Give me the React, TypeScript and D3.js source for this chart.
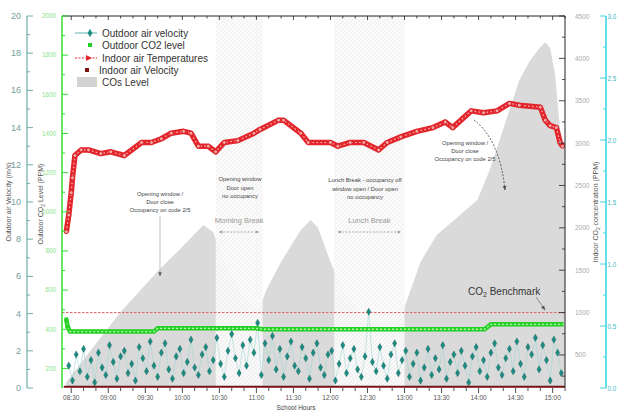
import React from "react";
import * as d3 from "d3";

// ---------- DATA ----------
const xTickLabels = ["08:30","09:00","09:30","10:00","10:30","11:00","11:30","12:00","12:30","13:00","13:30","14:00","14:30","15:00"];

// Indoor CO2 concentration (grey area), right axis (PPM)
const co2Times = ["08:26","08:46","09:10","09:41","09:59","10:17","10:25","10:35","10:51","11:02","11:08","11:20","11:36","11:44","11:50","12:00","12:12","12:28","12:45","12:53","13:02","13:13","13:26","13:45","13:59","14:09","14:17","14:25","14:33","14:41","14:48","14:54","14:58","15:02","15:06","15:10"];
const co2Values = [182,559,1008,1503,1763,2034,1952,1562,1149,1031,1267,1598,1975,2093,1999,1598,1208,937,795,772,1149,1598,1916,2152,2329,2683,3037,3391,3745,3957,4099,4193,4123,3804,3155,2942];

// Indoor air temperature (left axis)
const tempTimes = ["08:26","08:28","08:30","08:31","08:33","08:38","08:44","08:54","09:02","09:13","09:27","09:35","09:43","09:51","10:01","10:07","10:13","10:21","10:27","10:34","10:45","10:58","11:03","11:18","11:22","11:36","11:42","12:00","12:06","12:16","12:27","12:39","12:46","12:57","13:10","13:23","13:33","13:39","13:54","14:04","14:15","14:25","14:33","14:50","14:54","14:58","15:03","15:06","15:08"];
const tempValues = [8.4,9.3,10.5,11.3,12.5,12.8,12.8,12.6,12.7,12.5,13.2,13.2,13.4,13.7,13.8,13.7,13.0,13.0,12.7,13.2,13.3,13.7,13.9,14.4,14.4,13.7,13.2,13.2,13.0,13.2,13.2,12.8,13.2,13.5,13.8,14.0,14.3,14.0,14.9,14.8,14.9,15.3,15.2,15.1,14.4,14.1,14.0,13.2,13.0];

// Outdoor CO2 level (green axis, PPM)
const outCo2Times = ["08:26","08:27","08:29","09:37","09:40","11:00","11:05","14:05","14:10","15:09"];
const outCo2Values = [450,415,388,388,405,405,400,400,425,425];

// Outdoor air velocity (left axis, m/s), sampled every 3 minutes from 08:28
const velStart = "08:28";
const velStepMin = 3;
const velValues = [
  1.2,0.4,1.8,0.9,2.1,0.6,1.5,0.3,1.9,1.1,0.7,2.3,1.4,0.5,1.7,2.0,0.8,1.3,0.4,2.2,
  1.6,0.9,2.5,1.2,0.6,1.9,2.4,1.0,0.5,1.7,2.1,0.8,1.4,2.6,1.1,0.7,1.8,2.2,0.9,1.5,
  2.7,1.3,0.6,2.0,2.9,1.6,0.8,2.3,1.2,2.6,1.9,3.5,0.7,2.4,1.5,2.8,1.0,2.1,0.6,1.7,
  2.5,1.2,0.9,2.2,1.6,0.5,1.9,2.4,1.1,0.7,1.8,2.0,0.4,1.3,2.3,0.8,1.6,2.1,1.0,0.6,
  1.7,4.1,1.4,0.9,2.2,1.2,0.5,1.8,2.4,0.8,1.5,2.0,0.6,1.3,1.9,0.4,1.1,2.1,0.7,1.6,
  1.0,2.3,0.5,1.4,1.8,0.8,2.0,1.2,0.3,1.7,2.2,0.9,1.5,0.6,1.9,2.4,1.1,0.7,1.6,2.1,
  0.9,2.5,1.3,0.6,2.2,1.8,2.7,1.0,2.3,1.5,0.4,2.6,1.9,0.8
];

// Indoor air velocity (cyan axis, m/s)
const inVelTimes = ["08:24","15:10"];
const inVelValues = [0.01,0.01];

const breakStarts = ["10:27","12:03"];
const breakEnds = ["11:05","13:00"];
const breakLabels = ["Morning  Break","Lunch  Break"];

const co2Benchmark = 1000;

const leftTicks = [0,2,4,6,8,10,12,14,16,18,20];
const greenTicks = [200,400,600,800,1000,1200,1400,1600,1800,2000];
const rightTicks = [500,1000,1500,2000,2500,3000,3500,4000,4500];
const cyanTicks = [0,0.5,1.0,1.5,2.0,2.5,3.0];

// ---------- LAYOUT ----------
const W = 617, H = 414;
const L = 62, R = 565, T = 16, B = 388;
const FONT = "'Liberation Sans', Arial, sans-serif";

const parse = d3.timeParse("%H:%M");

export default function App() {
  const x = d3.scaleTime().domain([parse("08:23")!, parse("15:10")!]).range([L + 0.6, R]);
  const yLeft = d3.scaleLinear().domain([0, 20]).range([B, T]);
  const yGreen = d3.scaleLinear().domain([100, 2000]).range([B, T]);
  const yRight = d3.scaleLinear().domain([110, 4500]).range([B, T]);
  const yCyan = d3.scaleLinear().domain([0, 3]).range([B, T]);

  const co2Data = co2Times.map((t, i) => ({ t: parse(t)!, v: co2Values[i] }));
  const tempData = tempTimes.map((t, i) => ({ t: parse(t)!, v: tempValues[i] }));
  const outCo2Data = outCo2Times.map((t, i) => ({ t: parse(t)!, v: outCo2Values[i] }));
  const velData = velValues.map((v, i) => ({ t: d3.timeMinute.offset(parse(velStart)!, i * velStepMin), v }));
  const inVelData = inVelTimes.map((t, i) => ({ t: parse(t)!, v: inVelValues[i] }));

  const area = d3.area<{ t: Date; v: number }>().x(d => x(d.t)).y0(B).y1(d => yRight(d.v));
  const tempLine = d3.line<{ t: Date; v: number }>().x(d => x(d.t)).y(d => yLeft(d.v));
  const greenLine = d3.line<{ t: Date; v: number }>().x(d => x(d.t)).y(d => yGreen(d.v));
  const velLine = d3.line<{ t: Date; v: number }>().x(d => x(d.t)).y(d => yLeft(d.v));
  const inVelLine = d3.line<{ t: Date; v: number }>().x(d => x(d.t)).y(d => yCyan(d.v));
  const diamond = d3.symbol().type(d3.symbolDiamond).size(15)()!;
  const diamondLg = d3.symbol().type(d3.symbolDiamond).size(20)()!;

  const minorX = d3.timeMinute.every(10)!.range(parse("08:30")!, d3.timeMinute.offset(parse("15:10")!, 1));
  const majorX = xTickLabels.map(s => parse(s)!);

  const sub = (size: number) => ({ fontSize: size * 0.7 });

  return (
    <svg width={W} height={H} style={{ display: "block", position: "absolute", left: 0, top: 0, background: "#fff" }} fontFamily={FONT}>
      <defs>
        <pattern id="hatch" width="4" height="4" patternUnits="userSpaceOnUse">
          <rect width="4" height="4" fill="#fbfbfb" />
          <path d="M0,4 L4,0 M-1,1 L1,-1 M3,5 L5,3" stroke="#e6e6e6" strokeWidth="0.7" />
        </pattern>
        <marker id="arr" viewBox="0 0 10 10" refX="9" refY="5" markerWidth="6" markerHeight="6" orient="auto-start-reverse">
          <path d="M0,1 L10,5 L0,9 z" fill="#555" />
        </marker>
        <marker id="arrG" viewBox="0 0 10 10" refX="9" refY="5" markerWidth="7" markerHeight="5" orient="auto-start-reverse">
          <path d="M0,1 L10,5 L0,9 L3,5 z" fill="#888" />
        </marker>
        <clipPath id="plot"><rect x={L} y={T} width={R - L} height={B - T} /></clipPath>
      </defs>

      {/* grey CO2 area */}
      <g clipPath="url(#plot)">
        <path d={area(co2Data)!} fill="#dadada" />
        {breakStarts.map((s, i) => (
          <rect key={i} x={x(parse(s)!)} y={T} width={x(parse(breakEnds[i])!) - x(parse(s)!)} height={B - T} fill="url(#hatch)" opacity={0.93} />
        ))}
      </g>

      {/* benchmark line */}
      <line x1={L} x2={R} y1={yRight(co2Benchmark)} y2={yRight(co2Benchmark)} stroke="#e06060" strokeWidth={1} strokeDasharray="2.5,1.5" />

      {/* outdoor air velocity */}
      <g clipPath="url(#plot)">
        <path d={velLine(velData)!} fill="none" stroke="#9fd6d1" strokeWidth={0.6} />
        {velData.map((d, i) => (
          <path key={i} d={diamond} transform={`translate(${x(d.t)},${yLeft(d.v)})`} fill="#1c8b82" stroke="#0f5f58" strokeWidth={0.4} />
        ))}
      </g>

      {/* outdoor CO2 */}
      <path d={greenLine(outCo2Data)!} fill="none" stroke="#24d024" strokeWidth={4.5} />
      <path d={greenLine(outCo2Data)!} fill="none" stroke="#b9f7b9" strokeWidth={1.3} strokeDasharray="2,2" />
      {outCo2Data.slice(0, 2).map((d, i) => (
        <rect key={i} x={x(d.t) - 2} y={yGreen(d.v) - 2} width={4} height={4} fill="#24d024" />
      ))}

      {/* indoor temperature */}
      <path d={tempLine(tempData)!} fill="none" stroke="#e3262b" strokeWidth={5.5} strokeLinejoin="round" />
      <path d={tempLine(tempData)!} fill="none" stroke="#f8b9b9" strokeWidth={1.2} strokeDasharray="1.5,2.5" />
      {tempData.map((d, i) => (
        <circle key={i} cx={x(d.t)} cy={yLeft(d.v)} r={2} fill="#f6a5a5" stroke="#d81f25" strokeWidth={1} />
      ))}

      {/* indoor air velocity along bottom */}
      <path d={inVelLine(inVelData)!} fill="none" stroke="#7a1414" strokeWidth={2} />

      {/* top border + ticks */}
      <line x1={L} x2={R} y1={T} y2={T} stroke="#222" strokeWidth={1} />
      {minorX.map((d, i) => (
        <line key={i} x1={x(d)} x2={x(d)} y1={T} y2={T + (d.getMinutes() % 30 === 0 ? 4 : 2.5)} stroke="#222" strokeWidth={0.8} />
      ))}
      {/* bottom ticks */}
      {minorX.map((d, i) => (
        <line key={"b" + i} x1={x(d)} x2={x(d)} y1={B} y2={B + (d.getMinutes() % 30 === 0 ? 5 : 3)} stroke="#222" strokeWidth={0.8} />
      ))}
      {majorX.map((d, i) => (
        <text key={i} x={x(d)} y={400} fontSize={6.5} fill="#555" textAnchor="middle">{xTickLabels[i]}</text>
      ))}
      <text x={296} y={410} fontSize={6.5} fill="#444" textAnchor="middle">School Hours</text>

      {/* right border of plot with ticks (indoor CO2 axis) */}
      <line x1={R} x2={R} y1={T} y2={B} stroke="#222" strokeWidth={1} />
      {d3.range(250, 4501, 250).map((v, i) => (
        <line key={i} x1={R} x2={R - (v % 500 === 0 ? 6 : 3)} y1={yRight(v)} y2={yRight(v)} stroke="#222" strokeWidth={0.8} />
      ))}
      {rightTicks.map((v, i) => (
        <text key={i} x={575} y={yRight(v) + 2.5} fontSize={6.5} fill="#aaa">{v}</text>
      ))}

      {/* green axis */}
      <line x1={L} x2={L} y1={T} y2={B} stroke="#33dd33" strokeWidth={1.5} />
      {d3.range(200, 2001, 100).map((v, i) => (
        <line key={i} x1={L} x2={L + (v % 200 === 0 ? 6 : 3)} y1={yGreen(v)} y2={yGreen(v)} stroke="#33dd33" strokeWidth={1} />
      ))}
      {greenTicks.map((v, i) => (
        <text key={i} x={56} y={yGreen(v) + 2.3} fontSize={6.3} fill="#88e388" textAnchor="end">{v}</text>
      ))}

      {/* left teal axis */}
      <line x1={27} x2={27} y1={T} y2={B} stroke="#4e9c95" strokeWidth={1} />
      {d3.range(0, 21, 1).map((v, i) => (
        <line key={i} x1={27} x2={27 + (v % 2 === 0 ? 6 : 3)} y1={yLeft(v)} y2={yLeft(v)} stroke="#4e9c95" strokeWidth={0.8} />
      ))}
      {leftTicks.map((v, i) => (
        <text key={i} x={21} y={yLeft(v) + 3} fontSize={9} fill="#6f9e9a" textAnchor="end">{v}</text>
      ))}

      {/* cyan axis */}
      <line x1={606} x2={606} y1={T} y2={B} stroke="#3fd6df" strokeWidth={1.6} />
      {d3.range(0, 3.01, 0.25).map((v, i) => (
        <line key={i} x1={606} x2={606 - (i % 2 === 0 ? 6 : 3)} y1={yCyan(v)} y2={yCyan(v)} stroke="#3fd6df" strokeWidth={1} />
      ))}
      {cyanTicks.map((v, i) => (
        <text key={i} x={607.5} y={yCyan(v) + 2.5} fontSize={6.3} fill="#3bb8bf">{v.toFixed(1)}</text>
      ))}

      {/* axis titles */}
      <text transform="translate(11,202) rotate(-90)" fontSize={7} fill="#555" textAnchor="middle">Outdoor air Velocity (m/s)</text>
      <text transform="translate(43,204) rotate(-90)" fontSize={7} fill="#555" textAnchor="middle">
        Outdoor CO<tspan style={sub(7)} dy={1.5}>2</tspan><tspan dy={-1.5}> Level (PPM)</tspan>
      </text>
      <text transform="translate(598,212) rotate(-90)" fontSize={7} fill="#555" textAnchor="middle">
        Indoor CO<tspan style={sub(7)} dy={1.5}>2</tspan><tspan dy={-1.5}> concentration (PPM)</tspan>
      </text>

      {/* legend */}
      <g fontSize={10} fill="#333">
        <line x1={75} x2={97} y1={33} y2={33} stroke="#5fb3ad" strokeWidth={1} />
        <path d={diamondLg} transform="translate(90,33)" fill="#1f8f86" />
        <text x={102} y={36.5}>Outdoor air velocity</text>
        <rect x={88} y={43} width={4} height={4} fill="#24d024" />
        <text x={102} y={48.5}>Outdoor CO2 level</text>
        <line x1={75} x2={97} y1={58} y2={58} stroke="#e3262b" strokeWidth={1} strokeDasharray="2,1.5" />
        <path d="M86,55 L92,58 L86,61 z" fill="#e3262b" />
        <text x={102} y={61.5}>Indoor air Temperatures</text>
        <rect x={85} y={68} width={4} height={4} fill="#7a1414" />
        <text x={99} y={73.5}>Indoor air Velocity</text>
        <rect x={77} y={77} width={20} height={10} fill="#d3d3d3" />
        <text x={102} y={85.5}>COs Level</text>
      </g>

      {/* annotations */}
      <g fontSize={5.8} fill="#444" textAnchor="middle">
        <text x={160} y={196}>Opening window /</text>
        <text x={160} y={204}>Door close</text>
        <text x={160} y={212}>Occupancy on code 2/5</text>

        <text x={240} y={181}>Opening window</text>
        <text x={240} y={189.5}>Door open</text>
        <text x={240} y={198}>no occupancy</text>

        <text x={365} y={182}>Lunch Break  - occupancy off</text>
        <text x={365} y={190.5}>window open / Door open</text>
        <text x={365} y={199}>no occupancy</text>

        <text x={465} y={145}>Opening window /</text>
        <text x={465} y={153}>Door close</text>
        <text x={465} y={161}>Occupancy on code 2/5</text>
      </g>
      <line x1={160} x2={160} y1={216} y2={276} stroke="#aaa" strokeWidth={0.7} markerEnd="url(#arr)" />
      <path d="M474,120 Q500,140 505,190" fill="none" stroke="#333" strokeWidth={0.8} strokeDasharray="2,1.5" markerEnd="url(#arr)" />

      {breakStarts.map((s, i) => {
        const x0 = x(parse(s)!), x1 = x(parse(breakEnds[i])!);
        return (
          <g key={i}>
            <text x={(x0 + x1) / 2} y={223} fontSize={7.5} fill="#999" textAnchor="middle">{breakLabels[i]}</text>
            <line x1={x0 + 4} x2={x1 - 4} y1={232} y2={232} stroke="#888" strokeWidth={0.7} strokeDasharray="2,1.5" markerStart="url(#arrG)" markerEnd="url(#arrG)" />
          </g>
        );
      })}

      <text x={468} y={295} fontSize={10} fill="#333">
        CO<tspan fontSize={7} dy={2}>2</tspan><tspan dy={-2}> Benchmark</tspan>
      </text>
      <line x1={536} x2={545} y1={297} y2={310} stroke="#777" strokeWidth={0.8} markerEnd="url(#arr)" />
    </svg>
  );
}
